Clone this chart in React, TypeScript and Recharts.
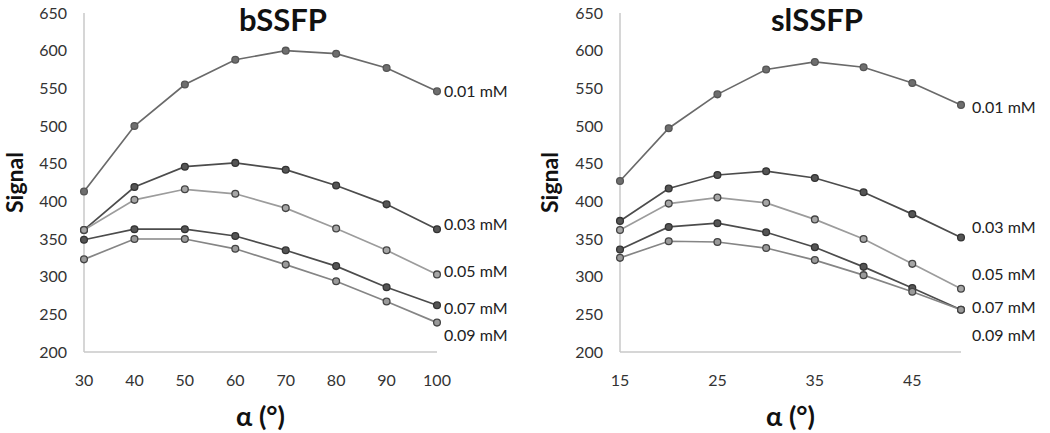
import { Label, Line, LineChart, XAxis, YAxis } from 'recharts'

const concentrations = ['0.01 mM', '0.03 mM', '0.05 mM', '0.07 mM', '0.09 mM']

// bSSFP, flip angle 30..100
const bAngles = [30, 40, 50, 60, 70, 80, 90, 100]
const b001 = [413, 500, 555, 588, 600, 596, 577, 546]
const b003 = [362, 419, 446, 451, 442, 421, 396, 363]
const b005 = [362, 402, 416, 410, 391, 364, 335, 303]
const b007 = [349, 363, 363, 354, 335, 314, 286, 262]
const b009 = [323, 350, 350, 337, 316, 294, 267, 239]

// slSSFP, flip angle 15..50
const slAngles = [15, 20, 25, 30, 35, 40, 45, 50]
const sl001 = [427, 497, 542, 575, 585, 578, 557, 528]
const sl003 = [374, 417, 435, 440, 431, 412, 383, 352]
const sl005 = [362, 397, 405, 398, 376, 350, 317, 284]
const sl007 = [336, 366, 371, 359, 339, 313, 285, 256]
const sl009 = [325, 347, 346, 338, 322, 302, 280, 256]

const yTicks = [200, 250, 300, 350, 400, 450, 500, 550, 600, 650]
const bTicks = [30, 40, 50, 60, 70, 80, 90, 100]
const slTicks = [15, 25, 35, 45]

const seriesStyles = [
  { line: '#6a6a6a', fill: '#6e6e6e', dot: '#555' },
  { line: '#4c4c4c', fill: '#555', dot: '#333' },
  { line: '#9c9c9c', fill: '#a6a6a6', dot: '#444' },
  { line: '#4c4c4c', fill: '#555', dot: '#333' },
  { line: '#858585', fill: '#9a9a9a', dot: '#444' },
]

const FONT = 'Lato, "Noto Sans", sans-serif'

function buildRows(angles: number[], series: number[][]) {
  return angles.map((a, i) => {
    const row: Record<string, number> = { angle: a }
    series.forEach((s, k) => {
      row[`s${k}`] = s[i]
    })
    return row
  })
}

type PanelProps = {
  title: string
  titleX: number
  data: Record<string, number>[]
  domain: [number, number]
  ticks: number[]
  marginLeft: number
  marginRight: number
  signalX: number
  labelDx: number
  labelDy: number[]
}

function Panel({ title, titleX, data, domain, ticks, marginLeft, marginRight, signalX, labelDx, labelDy }: PanelProps) {
  const last = data.length - 1
  return (
    <div style={{ position: 'relative', width: 525, height: 433 }}>
      <LineChart
        width={525}
        height={433}
        data={data}
        margin={{ top: 13, right: marginRight, left: 0, bottom: 0 }}
      >
        <XAxis
          dataKey="angle"
          type="number"
          domain={domain}
          ticks={ticks}
          height={81}
          axisLine={{ stroke: '#c8c8c8', strokeWidth: 1.5 }}
          tickLine={false}
          tickSize={0}
          tickMargin={23}
          tick={{ fill: '#333', fontSize: 16, fontFamily: FONT }}
        >
          <Label
            value="α (°)"
            position="insideBottom"
            offset={7}
            style={{ fill: '#111', fontSize: 27, fontWeight: 700, fontFamily: FONT }}
          />
        </XAxis>
        <YAxis
          type="number"
          domain={[200, 650]}
          ticks={yTicks}
          width={marginLeft}
          axisLine={{ stroke: '#c8c8c8', strokeWidth: 1.5 }}
          tickLine={false}
          tickSize={0}
          tickMargin={17}
          tick={{ fill: '#333', fontSize: 16, fontFamily: FONT }}
        >
          <Label
            value="Signal"
            angle={-90}
            position="insideLeft"
            offset={signalX}
            style={{ fill: '#111', fontSize: 23, fontWeight: 700, fontFamily: FONT, textAnchor: 'middle' }}
          />
        </YAxis>
        {seriesStyles.map((st, k) => (
          <Line
            key={k}
            type="linear"
            dataKey={`s${k}`}
            stroke={st.line}
            strokeWidth={1.7}
            dot={{ r: 3.4, fill: st.fill, stroke: st.dot, strokeWidth: 1.3 }}
            isAnimationActive={false}
            label={(props: any) =>
              props.index === last ? (
                <text
                  key={`lbl${k}`}
                  x={props.x + labelDx}
                  y={props.y + labelDy[k]}
                  dominantBaseline="central"
                  fill="#222"
                  fontSize={16}
                  fontFamily={FONT}
                >
                  {concentrations[k]}
                </text>
              ) : (
                <g key={`n${k}-${props.index}`} />
              )
            }
          />
        ))}
      </LineChart>
      <div
        style={{
          position: 'absolute',
          top: 1,
          left: titleX - 100,
          width: 200,
          textAlign: 'center',
          fontFamily: FONT,
          fontWeight: 700,
          fontSize: 31,
          lineHeight: '37px',
          color: '#111',
        }}
      >
        {title}
      </div>
    </div>
  )
}

export default function App() {
  const bData = buildRows(bAngles, [b001, b003, b005, b007, b009])
  const slData = buildRows(slAngles, [sl001, sl003, sl005, sl007, sl009])
  return (
    <div
      style={{
        position: 'absolute',
        left: 0,
        top: 0,
        width: 1050,
        height: 433,
        background: '#fff',
        display: 'flex',
      }}
    >
      <Panel
        title="bSSFP"
        titleX={283}
        data={bData}
        domain={[30, 100]}
        ticks={bTicks}
        marginLeft={84}
        marginRight={88}
        signalX={15}
        labelDx={7}
        labelDy={[-1, -6, -4, 2, 12]}
      />
      <Panel
        title="slSSFP"
        titleX={292}
        data={slData}
        domain={[15, 50]}
        ticks={slTicks}
        marginLeft={95}
        marginRight={89}
        signalX={25}
        labelDx={11}
        labelDy={[2, -11, -15, -3, 25]}
      />
    </div>
  )
}
